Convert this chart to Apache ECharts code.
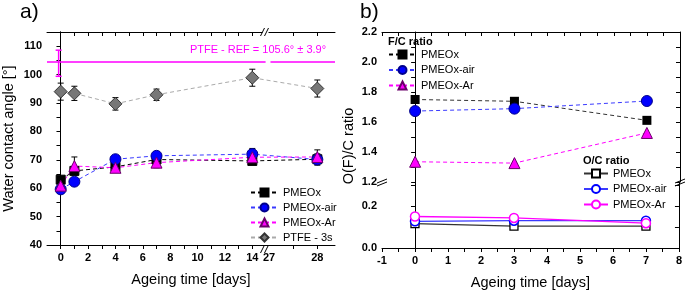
<!DOCTYPE html>
<html>
<head>
<meta charset="utf-8">
<script src="https://cdn.jsdelivr.net/npm/echarts@6/dist/echarts.min.js"></script>
<style>
  html, body { margin: 0; padding: 0; background: #fff; }
  #chart { width: 685px; height: 292px; }
</style>
</head>
<body>
<div id="chart"></div>
<script>
// ---- panel a) water contact angle ----
var daysA = [0, 1, 4, 7, 14, 28];
var pmeoxA = [63.0, 66.1, 67.5, 70.1, 69.6, 70.2];
var pmeoxAirA = [59.6, 62.3, 70.2, 71.4, 72.0, 70.1];
var pmeoxArA = [60.9, 67.8, 67.2, 69.0, 70.9, 71.0];
var ptfeA = [94.0, 93.4, 89.7, 92.9, 98.9, 95.1];
var pmeoxErrA = [1.0, 1.2, 1.0, 1.2, 1.0, 1.5];
var pmeoxAirErrA = [1.0, 1.0, 1.0, 1.5, 2.0, 2.0];
var pmeoxArErrA = [1.0, 3.2, 1.2, 1.8, 1.5, 2.5];
var ptfeErrA = [3.0, 2.5, 2.2, 2.0, 3.0, 3.0];
var ptfeRef = 104.4;
var ptfeRefBar = [-0.15, 99.4, 108.6];   // day, low, high
var ptfeRefText = "PTFE - REF = 105.6° ± 3.9°";

var xLabelsA = [0, 2, 4, 6, 8, 10, 12, 14, 27, 28];
var xTicksA = [0, 1, 2, 3, 4, 5, 6, 7, 8, 9, 10, 11, 12, 13, 14, 27.5, 28];
var yLabelsA = [40, 50, 60, 70, 80, 90, 100, 110];
var yTicksA = [40, 45, 50, 55, 60, 65, 70, 75, 80, 85, 90, 95, 100, 105, 110];

// ---- panel b) F/C and O/C ratio ----
var daysB = [0, 3, 7];
var fcPmeox = [1.75, 1.738, 1.611];
var fcAir = [1.673, 1.689, 1.74];
var fcAr = [1.335, 1.326, 1.527];
var ocPmeox = [0.116, 0.104, 0.104];
var ocAir = [0.127, 0.130, 0.130];
var ocAr = [0.150, 0.143, 0.118];

var xLabelsB = [-1, 0, 1, 2, 3, 4, 5, 6, 7, 8];
var xTicksB = [-1, -0.5, 0, 0.5, 1, 1.5, 2, 2.5, 3, 3.5, 4, 4.5, 5, 5.5, 6, 6.5, 7, 7.5, 8];
var yLabelsUp = [1.2, 1.4, 1.6, 1.8, 2.0, 2.2];
var yTicksUp = [1.2, 1.3, 1.4, 1.5, 1.6, 1.7, 1.8, 1.9, 2.0, 2.1, 2.2];
var yLabelsLow = [0, 0.2];
var yTicksLow = [0, 0.1, 0.2, 0.3];

// broken x axis of panel a: days after the break are stretched
var BREAK_AT = 15.22, POST_SCALE = 3.53;
function toAxis(d) { return d <= 15 ? d : BREAK_AT + (d - 27) * POST_SCALE; }
function fromAxis(u) { return u <= 15.1 ? u : 27 + (u - BREAK_AT) / POST_SCALE; }

var FONT = "Liberation Sans, Arial, sans-serif";
var BLUE = "#0000ff", MAG = "#ff00ff";

var chart = echarts.init(document.getElementById("chart"));

function pairs(xs, ys, fx) {
  return xs.map(function (x, i) { return [fx ? fx(x) : x, ys[i]]; });
}

function errBars(xs, ys, errs, color, xi, yi) {
  return {
    type: "custom",
    xAxisIndex: xi, yAxisIndex: yi,
    z: 1,
    silent: true,
    data: xs.map(function (x, i) { return [toAxis(x), ys[i] - errs[i], ys[i] + errs[i]]; }),
    renderItem: function (params, api) {
      var lo = api.coord([api.value(0), api.value(1)]);
      var hi = api.coord([api.value(0), api.value(2)]);
      var st = { stroke: color, lineWidth: 1 };
      return {
        type: "group",
        children: [
          { type: "line", shape: { x1: lo[0], y1: lo[1], x2: hi[0], y2: hi[1] }, style: st },
          { type: "line", shape: { x1: lo[0] - 3, y1: lo[1], x2: lo[0] + 3, y2: lo[1] }, style: st },
          { type: "line", shape: { x1: hi[0] - 3, y1: hi[1], x2: hi[0] + 3, y2: hi[1] }, style: st }
        ]
      };
    }
  };
}

function lineA(name, ys, color, lineColor, symbol, size, border) {
  return {
    type: "line", name: name, xAxisIndex: 0, yAxisIndex: 0,
    data: pairs(daysA, ys, toAxis),
    symbol: symbol, symbolSize: size,
    itemStyle: { color: color, borderColor: border, borderWidth: 1 },
    lineStyle: { color: lineColor, width: 1, type: [4, 3] },
    z: 3
  };
}

function lineB(name, ys, grid, opts) {
  return {
    type: "line", name: name,
    xAxisIndex: grid === "up" ? 2 : 3,
    yAxisIndex: grid === "up" ? 2 : 4,
    data: pairs(daysB, ys),
    symbol: opts.symbol, symbolSize: opts.size,
    itemStyle: opts.item,
    lineStyle: opts.line,
    z: 3
  };
}

var axisLine = { show: true, lineStyle: { color: "#000", width: 1 } };
var labelStyle = { color: "#000", fontFamily: FONT, fontWeight: "bold", fontSize: 11 };

function yAx(grid, min, max, labels, ticks, side, fmt, name) {
  var left = side === "left";
  return {
    type: "value", gridIndex: grid, position: side, min: min, max: max,
    name: name || "", nameLocation: "middle", nameGap: 31,
    nameTextStyle: { fontFamily: FONT, fontSize: 14.5, color: "#000" },
    axisLine: axisLine,
    splitLine: { show: false },
    axisTick: { show: true, inside: !left, length: 4, customValues: ticks, lineStyle: { color: "#000" } },
    axisLabel: left ? Object.assign({ show: true, margin: 5, showMinLabel: true, showMaxLabel: true, hideOverlap: false, customValues: labels, formatter: fmt }, labelStyle) : { show: false }
  };
}

function xAx(grid, min, max, labels, ticks, side, fmt, name, lineShow) {
  var bottom = side === "bottom";
  return {
    type: "value", gridIndex: grid, position: side, min: min, max: max,
    name: name || "", nameLocation: "middle", nameGap: 27,
    nameTextStyle: { fontFamily: FONT, fontSize: 14.5, color: "#000" },
    axisLine: { show: lineShow !== false, lineStyle: { color: "#000", width: 1 } },
    splitLine: { show: false },
    axisTick: { show: true, inside: !bottom, length: 4, customValues: ticks, lineStyle: { color: "#000" } },
    axisLabel: bottom ? Object.assign({ show: true, margin: 7, customValues: labels, formatter: fmt }, labelStyle) : { show: false }
  };
}

var fmtDays = function (v) { return String(Math.round(fromAxis(v))); };
var fmt1 = function (v) { return v.toFixed(1); };

// break marks
function slashes(x, y, horizontal) {
  var s = { stroke: "#000", lineWidth: 1 };
  var items = [];
  if (horizontal) {
    items.push({ type: "rect", shape: { x: x - 3, y: y - 3, width: 6, height: 6 }, style: { fill: "#fff" }, z: 100 });
    items.push({ type: "line", shape: { x1: x - 5, y1: y + 4, x2: x - 1, y2: y - 4 }, style: s, z: 101 });
    items.push({ type: "line", shape: { x1: x - 1, y1: y + 4, x2: x + 3, y2: y - 4 }, style: s, z: 101 });
  } else {
    items.push({ type: "line", shape: { x1: x - 5, y1: y + 1, x2: x + 5, y2: y - 3 }, style: s, z: 101 });
    items.push({ type: "line", shape: { x1: x - 5, y1: y + 4, x2: x + 5, y2: y }, style: s, z: 101 });
  }
  return items;
}

var refLine = {
  type: "line", name: "ref", xAxisIndex: 0, yAxisIndex: 0,
  data: [[-1, ptfeRef], [toAxis(14.97), ptfeRef], "-", [toAxis(27.03), ptfeRef], [20.04, ptfeRef]],
  symbol: "none", silent: true, connectNulls: false,
  lineStyle: { color: MAG, width: 1.5 }, z: 2
};

var refBar = {
  type: "custom", xAxisIndex: 0, yAxisIndex: 0, silent: true, z: 2,
  data: [ptfeRefBar],
  renderItem: function (params, api) {
    var lo = api.coord([api.value(0), api.value(1)]);
    var hi = api.coord([api.value(0), api.value(2)]);
    var st = { stroke: MAG, lineWidth: 1.5 };
    return {
      type: "group",
      children: [
        { type: "line", shape: { x1: lo[0], y1: lo[1], x2: hi[0], y2: hi[1] }, style: st },
        { type: "line", shape: { x1: lo[0] - 3, y1: lo[1], x2: lo[0] + 3, y2: lo[1] }, style: st },
        { type: "line", shape: { x1: hi[0] - 3, y1: hi[1], x2: hi[0] + 3, y2: hi[1] }, style: st }
      ]
    };
  }
};

var legendText = { fontFamily: FONT, fontSize: 11, color: "#000" };

var option = {
  animation: false,
  backgroundColor: "#fff",
  grid: [
    { left: 43, top: 32, width: 292, height: 217 },
    { left: 382, top: 32, width: 298, height: 150 },
    { left: 382, top: 182, width: 298, height: 66 }
  ],
  xAxis: [
    xAx(0, -1, 20.04, xLabelsA.map(toAxis), xTicksA.map(toAxis), "bottom", fmtDays, "Ageing time [days]"),
    xAx(0, -1, 20.04, [], xTicksA.map(toAxis), "top"),
    xAx(1, -1, 8, [], xTicksB, "top"),
    xAx(2, -1, 8, xLabelsB, xTicksB, "bottom", null, "Ageing time [days]")
  ],
  yAxis: [
    yAx(0, 40, 115, yLabelsA, yTicksA, "left", null, "Water contact angle [°]"),
    yAx(0, 40, 115, [], yTicksA, "right"),
    yAx(1, 1.2, 2.2, yLabelsUp, yTicksUp, "left", fmt1),
    yAx(1, 1.2, 2.2, [], yTicksUp, "right"),
    yAx(2, 0, 66 / 210, yLabelsLow, yTicksLow, "left", fmt1),
    yAx(2, 0, 66 / 210, [], yTicksLow, "right")
  ],
  legend: [
    {
      left: 250, top: 187, padding: 0, orient: "vertical", itemWidth: 27, itemHeight: 10, itemGap: 4,
      selectedMode: false, textStyle: legendText,
      data: ["PMEOx", "PMEOx-air", "PMEOx-Ar", "PTFE - 3s"]
    },
    {
      left: 388, top: 49, padding: 0, orient: "vertical", itemWidth: 27, itemHeight: 10, itemGap: 4.5,
      selectedMode: false, textStyle: legendText,
      data: ["PMEOx", "PMEOx-air", "PMEOx-Ar"]
    },
    {
      left: 583, top: 168, padding: 0, orient: "vertical", itemWidth: 24, itemHeight: 10, itemGap: 4.5,
      selectedMode: false, textStyle: legendText,
      data: ["PMEOx\u200b", "PMEOx-air\u200b", "PMEOx-Ar\u200b"]
    }
  ],
  graphic: [
    { type: "text", x: 20, y: 12, style: { text: "a)", font: "21px " + FONT, fill: "#000", textVerticalAlign: "middle" } },
    { type: "text", x: 360, y: 12, style: { text: "b)", font: "21px " + FONT, fill: "#000", textVerticalAlign: "middle" } },
    { type: "text", x: 258, y: 50, style: { text: ptfeRefText, font: "11px " + FONT, fill: MAG, textAlign: "center", textVerticalAlign: "middle" } },
    { type: "text", x: 388, y: 42, style: { text: "F/C ratio", font: "bold 11px " + FONT, fill: "#000", textVerticalAlign: "middle" } },
    { type: "text", x: 583, y: 161, style: { text: "O/C ratio", font: "bold 11px " + FONT, fill: "#000", textVerticalAlign: "middle" } },
    { type: "text", x: 349, y: 146, rotation: Math.PI / 2, style: { text: "O(F)/C ratio", font: "14.5px " + FONT, fill: "#000", textAlign: "center", textVerticalAlign: "middle" } }
  ]
    .concat(slashes(265.5, 32, true))
    .concat(slashes(265.5, 249, true))
    .concat(slashes(382, 182, false))
    .concat(slashes(680, 182, false)),
  series: [
    refLine,
    refBar,
    errBars(daysA, pmeoxA, pmeoxErrA, "#000", 0, 0),
    errBars(daysA, pmeoxAirA, pmeoxAirErrA, "#000", 0, 0),
    errBars(daysA, pmeoxArA, pmeoxArErrA, "#000", 0, 0),
    errBars(daysA, ptfeA, ptfeErrA, "#000", 0, 0),
    lineA("PMEOx", pmeoxA, "#000", "#000", "rect", 9, "#000"),
    lineA("PMEOx-air", pmeoxAirA, BLUE, "#3a3aff", "circle", 11, "#00008b"),
    lineA("PMEOx-Ar", pmeoxArA, MAG, MAG, "triangle", 11, "#6a006a"),
    lineA("PTFE - 3s", ptfeA, "#777", "#aaa", "diamond", 13, "#333"),

    lineB("PMEOx", fcPmeox, "up", { symbol: "rect", size: 9, item: { color: "#000" }, line: { color: "#333", width: 1, type: [4, 3] } }),
    lineB("PMEOx-air", fcAir, "up", { symbol: "circle", size: 11, item: { color: BLUE, borderColor: "#00008b", borderWidth: 1 }, line: { color: "#3a3aff", width: 1, type: [4, 3] } }),
    lineB("PMEOx-Ar", fcAr, "up", { symbol: "triangle", size: 11, item: { color: MAG, borderColor: "#6a006a", borderWidth: 1 }, line: { color: MAG, width: 1, type: [4, 3] } }),

    lineB("PMEOx\u200b", ocPmeox, "low", { symbol: "rect", size: 8, item: { color: "#fff", borderColor: "#000", borderWidth: 1.3 }, line: { color: "#333", width: 1.3 } }),
    lineB("PMEOx-air\u200b", ocAir, "low", { symbol: "circle", size: 9, item: { color: "#fff", borderColor: BLUE, borderWidth: 1.5 }, line: { color: "#3a3aff", width: 1.3 } }),
    lineB("PMEOx-Ar\u200b", ocAr, "low", { symbol: "circle", size: 9, item: { color: "#fff", borderColor: MAG, borderWidth: 1.5 }, line: { color: MAG, width: 1.3 } })
  ]
};

chart.setOption(option);
</script>
</body>
</html>
